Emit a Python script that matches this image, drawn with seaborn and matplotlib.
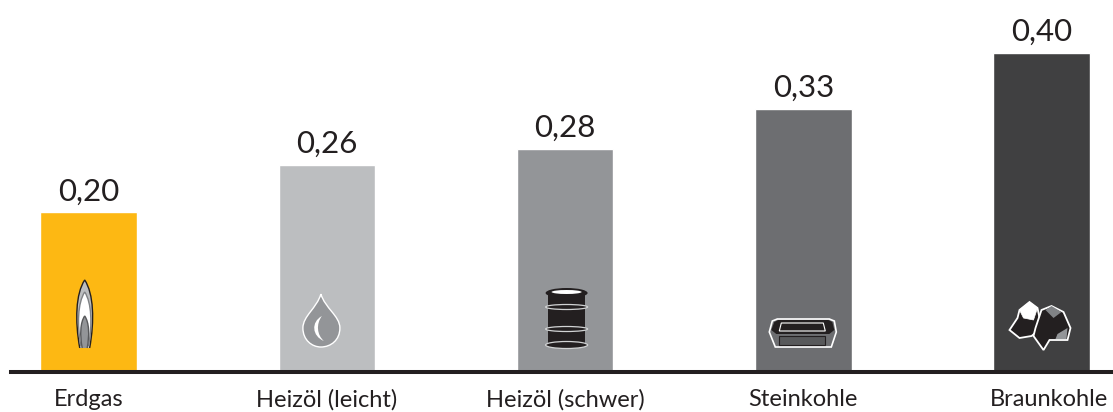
import matplotlib
matplotlib.use("Agg")
import matplotlib.pyplot as plt
import matplotlib.transforms as mtrans
from matplotlib.patches import Polygon, Ellipse, Rectangle, PathPatch
from matplotlib.path import Path
import pandas as pd
import seaborn as sns

# --- Data ---
categories = ["Erdgas", "Heizöl (leicht)", "Heizöl (schwer)", "Steinkohle", "Braunkohle"]
values = [0.20, 0.26, 0.28, 0.33, 0.40]
bar_colors = ["#FDB813", "#BCBEC0", "#939598", "#6D6E71", "#404041"]

dark = "#231F20"

sns.set_theme(style="white")
plt.rcParams["font.family"] = ["Lato", "DejaVu Sans"]

df = pd.DataFrame({"Brennstoff": categories, "Wert": values})

fig = plt.figure(figsize=(11.13, 4.12), dpi=100)
# axes fills the width, base line sits at 372 px from the top
ax = fig.add_axes([0, 40 / 412, 1, 372 / 412])

sns.barplot(data=df, x="Brennstoff", y="Wert", hue="Brennstoff", palette=bar_colors,
            saturation=1, width=0.405, legend=False, ax=ax)

ax.set_xlim(-88.7 / 238.2, (1113 - 88.7) / 238.2)
ax.set_ylim(0, 372 / 798)
ax.set_xlabel("")
ax.set_ylabel("")
ax.set_yticks([])

# value labels with German decimal comma
for container, v in zip(ax.containers, values):
    ax.bar_label(container, labels=[f"{v:.2f}".replace(".", ",")], fontsize=22.5,
                 color=dark, padding=5)

sns.despine(ax=ax, left=True)
ax.spines["bottom"].set_color(dark)
ax.spines["bottom"].set_linewidth(2.9)
ax.spines["bottom"].set_bounds(-78 / 238.2, (1113 - 88.7) / 238.2)

ax.tick_params(axis="x", length=0, pad=12, labelsize=17, labelcolor=dark)
# the last label sits a bit right of its bar
last = ax.get_xticklabels()[-1]
last.set_transform(last.get_transform() + mtrans.Affine2D().translate(7, 0))


# --- Icons, in pixels relative to the foot of each bar (y up) ---
def icon_tf(i):
    return mtrans.ScaledTranslation(i, 0, ax.transData)


def add(i, patch):
    patch.set_transform(icon_tf(i))
    patch.set_clip_on(False)
    ax.add_patch(patch)


def curve(points):
    codes = [Path.MOVETO] + [Path.CURVE4] * (len(points) - 1)
    return Path(points, codes)


# flame
def flame(i, cx, bottom, top, half, fc, ec):
    h = top - bottom
    pts = [(cx - half * 0.55, bottom),
           (cx - half * 1.1, bottom + h * 0.4), (cx - half * 1.0, bottom + h * 0.8), (cx, top),
           (cx + half * 1.0, bottom + h * 0.8), (cx + half * 1.1, bottom + h * 0.4), (cx + half * 0.55, bottom)]
    add(i, PathPatch(curve(pts), fc=fc, ec=ec, lw=1.0))


flame(0, -4, 24, 92, 9, "#BCBEC0", dark)
flame(0, -4, 26, 80, 7, "white", "#808285")
flame(0, -4, 24, 56, 4.5, "#939598", "#58595B")

# drop
drop_pts = [(-6, 78),
            (-10, 64), (-24, 56), (-24, 44),
            (-24, 32), (-15, 25), (-6, 25),
            (4, 25), (13, 32), (13, 44),
            (13, 56), (-2, 64), (-6, 78)]
add(1, PathPatch(curve(drop_pts), fc="#939598", ec="white", lw=1.0))
add(1, PathPatch(curve([(-5, 56), (-16, 50), (-15, 36), (-3, 31),
                        (-10, 37), (-11, 48), (-5, 56)]), fc="white", ec="none"))

# barrel
add(2, Rectangle((-17, 27), 37, 52, fc=dark, ec="none"))
for yc, ell_h in [(27, 7), (43, 5), (65, 5)]:
    add(2, Ellipse((1.5, yc), 42, ell_h, fc=dark, ec="#D1D3D4", lw=0.9))
add(2, Ellipse((1.5, 79), 42, 10, fc=dark, ec="none"))
add(2, Ellipse((1.5, 80), 30, 4, fc="white", ec="none"))

# hard coal briquette
add(3, Polygon([(-34, 40), (-31, 51), (-26, 53), (26, 53), (31, 51), (33, 40), (28, 25), (-28, 25)],
               closed=True, fc="#6D6E71", ec="white", lw=1.2))
add(3, Polygon([(-32, 42), (-29, 50), (-25, 52), (25, 52), (29, 50), (31, 42), (26, 38), (-27, 38)],
               closed=True, fc=dark, ec="none"))
add(3, Polygon([(-24, 36), (22, 36), (22, 27), (-24, 27)], closed=True,
               fc="#58595B", ec=dark, lw=0.8))
add(3, Polygon([(-24, 41), (-22, 49), (20, 49), (22, 41)], closed=True,
               fc="none", ec="white", lw=0.8))

# lignite lumps
add(4, Polygon([(-32, 42), (-24, 54), (-22, 62), (-12, 70), (-4, 64), (0, 44), (-10, 36), (-22, 34)],
               closed=True, fc=dark, ec="white", lw=1.3))
add(4, Polygon([(-22, 62), (-12, 70), (-4, 64), (-8, 52), (-18, 54)], closed=True, fc="white", ec="white", lw=0.5))
add(4, Polygon([(-6, 44), (0, 62), (10, 66), (22, 60), (29, 44), (26, 32), (8, 32), (2, 22), (-8, 36)],
               closed=True, fc=dark, ec="white", lw=1.3))
add(4, Polygon([(4, 62), (10, 66), (20, 60), (12, 54)], closed=True, fc="#808285", ec="none"))
add(4, Polygon([(16, 38), (26, 44), (25, 33), (14, 33)], closed=True, fc="#939598", ec="none"))

plt.savefig("out.png", dpi=100)
plt.close()
